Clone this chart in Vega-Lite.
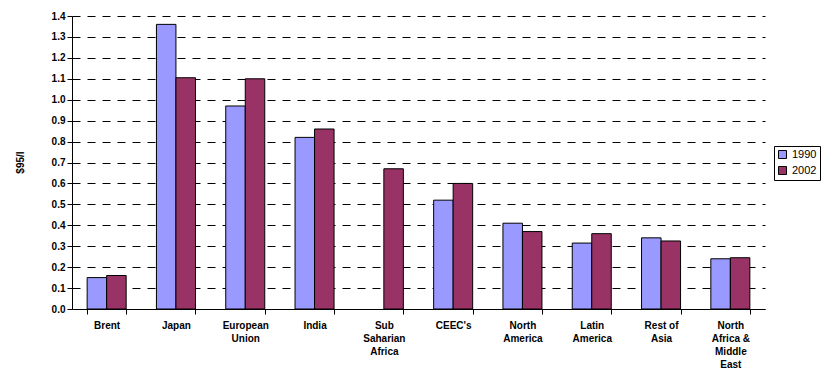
{
  "$schema": "https://vega.github.io/schema/vega-lite/v6.json",
  "width": 693,
  "height": 293,
  "autosize": "none",
  "padding": {"left": 72, "top": 16, "right": 62, "bottom": 61},
  "background": "white",
  "config": {
    "view": {"stroke": null},
    "font": "Liberation Sans",
    "axis": {"labelColor": "#000", "titleColor": "#000"}
  },
  "data": {
    "values": [
      {"region": "Brent", "year": "1990", "price": 0.15},
      {"region": "Brent", "year": "2002", "price": 0.16},
      {"region": "Japan", "year": "1990", "price": 1.36},
      {"region": "Japan", "year": "2002", "price": 1.105},
      {"region": "European Union", "year": "1990", "price": 0.97},
      {"region": "European Union", "year": "2002", "price": 1.1},
      {"region": "India", "year": "1990", "price": 0.82},
      {"region": "India", "year": "2002", "price": 0.86},
      {"region": "Sub Saharian Africa", "year": "2002", "price": 0.67},
      {"region": "CEEC's", "year": "1990", "price": 0.52},
      {"region": "CEEC's", "year": "2002", "price": 0.6},
      {"region": "North America", "year": "1990", "price": 0.41},
      {"region": "North America", "year": "2002", "price": 0.37},
      {"region": "Latin America", "year": "1990", "price": 0.315},
      {"region": "Latin America", "year": "2002", "price": 0.36},
      {"region": "Rest of Asia", "year": "1990", "price": 0.34},
      {"region": "Rest of Asia", "year": "2002", "price": 0.325},
      {"region": "North Africa & Middle East", "year": "1990", "price": 0.24},
      {"region": "North Africa & Middle East", "year": "2002", "price": 0.245}
    ]
  },
  "mark": {"type": "bar", "stroke": "#000", "strokeWidth": 1},
  "encoding": {
    "x": {
      "field": "region",
      "type": "nominal",
      "sort": null,
      "scale": {"paddingInner": 0.437, "paddingOuter": 0.2185},
      "axis": {
        "title": null,
        "labelAngle": 0,
        "labelAlign": "center",
        "labelBaseline": "top",
        "labelFontSize": 10,
        "labelFontWeight": "bold",
        "labelLineHeight": 13,
        "labelPadding": 6,
        "labelExpr": "!datum.value ? '' : datum.value == 'European Union' ? ['European', 'Union'] : datum.value == 'Sub Saharian Africa' ? ['Sub', 'Saharian', 'Africa'] : datum.value == 'Rest of Asia' ? ['Rest of', 'Asia'] : datum.value == 'North Africa & Middle East' ? ['North', 'Africa &', 'Middle', 'East'] : split(datum.value, ' ')",
        "tickBand": "extent",
        "tickSize": 5,
        "tickColor": "#000",
        "domainColor": "#000",
        "grid": false
      }
    },
    "xOffset": {"field": "year", "type": "nominal", "scale": {"paddingInner": 0}},
    "y": {
      "field": "price",
      "type": "quantitative",
      "scale": {"domain": [0, 1.4], "nice": false},
      "axis": {
        "title": "$95/l",
        "titleFontSize": 10,
        "titleFontWeight": "bold",
        "titleAngle": -90,
        "titleX": -52,
        "titleY": 146,
        "titleAlign": "center",
        "titleBaseline": "middle",
        "values": [0, 0.1, 0.2, 0.3, 0.4, 0.5, 0.6, 0.7, 0.8, 0.9, 1.0, 1.1, 1.2, 1.3, 1.4],
        "format": ".1f",
        "labelFontSize": 10,
        "labelFontWeight": "bold",
        "labelPadding": 2,
        "tickSize": 5,
        "tickColor": "#000",
        "domainColor": "#000",
        "grid": true,
        "gridColor": "#000",
        "gridDash": [8, 7],
        "gridWidth": 1
      }
    },
    "color": {
      "field": "year",
      "type": "nominal",
      "scale": {"domain": ["1990", "2002"], "range": ["#9999FF", "#993366"]},
      "legend": {
        "title": null,
        "orient": "none",
        "legendX": 702,
        "legendY": 130,
        "strokeColor": "#000",
        "padding": 3,
        "symbolType": "square",
        "symbolSize": 64,
        "symbolStrokeColor": "#000",
        "symbolStrokeWidth": 1,
        "labelFontSize": 11,
        "labelColor": "#000",
        "rowPadding": 3,
        "labelOffset": 4
      }
    }
  }
}
